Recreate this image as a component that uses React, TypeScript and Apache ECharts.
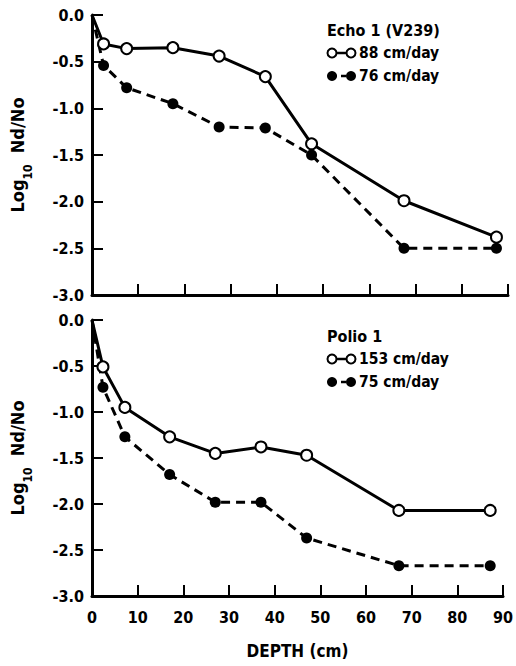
import React, { useEffect, useRef } from "react";
import * as echarts from "echarts";

// Depths (cm) and log10 Nd/No values
const depthEcho = [0, 2.5, 7.5, 17.5, 27.5, 37.5, 47.5, 67.5, 87.5];
const echo88 = [0, -0.31, -0.36, -0.35, -0.44, -0.66, -1.38, -1.99, -2.38];
const echo76 = [0, -0.54, -0.78, -0.95, -1.2, -1.21, -1.5, -2.5, -2.5];
const depthPolio = [0, 2.4, 7.2, 17, 27, 37, 47, 67.2, 87.2];
const polio153 = [0, -0.51, -0.95, -1.27, -1.45, -1.38, -1.47, -2.07, -2.07];
const polio75 = [0, -0.73, -1.27, -1.68, -1.98, -1.98, -2.37, -2.67, -2.67];

const xTicks = [0, 10, 20, 30, 40, 50, 60, 70, 80, 90];
const yTicks = [0, -0.5, -1, -1.5, -2, -2.5, -3];

const FONT = '"DejaVu Sans Condensed", "Liberation Sans Narrow", "DejaVu Sans", sans-serif';

function pts(xs: number[], ys: number[]) {
  return xs.map((x, i) =>
    i === 0 ? { value: [x, ys[i]], symbol: "none" } : { value: [x, ys[i]] }
  );
}

function legend(top: number, title: string, l1: string, l2: string) {
  const x1 = 332, x2 = 351, tx = 359;
  const y0 = top, y1 = top + 23, y2 = top + 46;
  const txt = (t: string, x: number, y: number, size: number) => ({
    type: "text",
    x,
    y,
    style: {
      text: t,
      fill: "#000",
      font: `bold ${size}px ${FONT}`,
      fontFamily: FONT,
      fontWeight: "bold",
      fontSize: size,
      align: "left",
      verticalAlign: "middle",
      textAlign: "left",
      textVerticalAlign: "middle",
    },
  });
  return [
    txt(title, 327, y0, 16),
    { type: "line", shape: { x1, y1, x2, y2: y1 }, style: { stroke: "#000", lineWidth: 2.5 } },
    { type: "circle", shape: { cx: x1, cy: y1, r: 4.5 }, style: { fill: "#fff", stroke: "#000", lineWidth: 2 } },
    { type: "circle", shape: { cx: x2, cy: y1, r: 4.5 }, style: { fill: "#fff", stroke: "#000", lineWidth: 2 } },
    txt(l1, tx, y1, 15.5),
    { type: "line", shape: { x1, y1: y2, x2, y2 }, style: { stroke: "#000", lineWidth: 2.5, lineDash: [5, 4] } },
    { type: "circle", shape: { cx: x1, cy: y2, r: 5 }, style: { fill: "#000" } },
    { type: "circle", shape: { cx: x2, cy: y2, r: 5 }, style: { fill: "#000" } },
    txt(l2, tx, y2, 15.5),
  ];
}

export default function App() {
  const ref = useRef<HTMLDivElement>(null);
  useEffect(() => {
    if (!ref.current) return;
    const chart = echarts.init(ref.current, null, { renderer: "svg" });

    const axisLine = { show: true, onZero: false, lineStyle: { color: "#000", width: 3 } };
    const axisTick = { show: true, inside: true, length: 11, lineStyle: { color: "#000", width: 2 } };
    const labelStyle = { color: "#000", fontFamily: FONT, fontWeight: "bold", fontSize: 16 };

    const xAxis = (idx: number, showLabel: boolean) => ({
      type: "value",
      gridIndex: idx,
      min: xTicks[0],
      max: xTicks[xTicks.length - 1],
      interval: 10,
      axisLine,
      axisTick,
      splitLine: { show: false },
      axisLabel: { show: showLabel, ...labelStyle, margin: 13 },
      ...(showLabel
        ? {
            name: "DEPTH (cm)",
            nameLocation: "middle",
            nameGap: 46,
            nameTextStyle: { color: "#000", fontFamily: FONT, fontWeight: "bold", fontSize: 17 },
          }
        : {}),
    });

    const yAxis = (idx: number) => ({
      type: "value",
      gridIndex: idx,
      min: yTicks[yTicks.length - 1],
      max: yTicks[0],
      interval: 0.5,
      axisLine,
      axisTick,
      splitLine: { show: false },
      axisLabel: {
        ...labelStyle,
        margin: 8,
        formatter: (v: number) => v.toFixed(1),
      },
      name: "{a|Log}{b|10}{a|  Nd/No}",
      nameLocation: "middle",
      nameRotate: 90,
      nameGap: 58,
      nameTextStyle: {
        rich: {
          a: { fontFamily: FONT, fontWeight: "bold", fontSize: 18, color: "#000", lineHeight: 26, verticalAlign: "top" },
          b: { fontFamily: FONT, fontWeight: "bold", fontSize: 12, color: "#000", lineHeight: 14, verticalAlign: "bottom" },
        },
      },
    });

    const solid = { color: "#000", width: 3, type: "solid" };
    const dashed = { color: "#000", width: 3, type: [9, 6] };
    const openItem = { color: "#fff", borderColor: "#000", borderWidth: 2 };
    const filledItem = { color: "#000", borderColor: "#000", borderWidth: 0 };

    const series = [
      { name: "88 cm/day", data: pts(depthEcho, echo88), xAxisIndex: 0, yAxisIndex: 0, lineStyle: solid, itemStyle: openItem, symbolSize: 11 },
      { name: "76 cm/day", data: pts(depthEcho, echo76), xAxisIndex: 0, yAxisIndex: 0, lineStyle: dashed, itemStyle: filledItem, symbolSize: 11 },
      { name: "153 cm/day", data: pts(depthPolio, polio153), xAxisIndex: 1, yAxisIndex: 1, lineStyle: solid, itemStyle: openItem, symbolSize: 11 },
      { name: "75 cm/day", data: pts(depthPolio, polio75), xAxisIndex: 1, yAxisIndex: 1, lineStyle: dashed, itemStyle: filledItem, symbolSize: 11 },
    ].map((s) => ({ ...s, type: "line", symbol: "circle", showSymbol: true, z: 3 }));

    chart.setOption({
      animation: false,
      backgroundColor: "#fff",
      grid: [
        { left: 90, top: 15, width: 418, height: 280 },
        { left: 90, top: 320, width: 418, height: 276 },
      ],
      xAxis: [xAxis(0, false), xAxis(1, true)],
      yAxis: [yAxis(0), yAxis(1)],
      series,
      graphic: [
        ...legend(30, "Echo 1 (V239)", "88 cm/day", "76 cm/day"),
        ...legend(336, "Polio 1", "153 cm/day", "75 cm/day"),
      ],
    });
    return () => chart.dispose();
  }, []);
  return (
    <div
      ref={ref}
      style={{ position: "fixed", left: 0, top: 0, width: 516, height: 666, background: "#fff" }}
    />
  );
}
